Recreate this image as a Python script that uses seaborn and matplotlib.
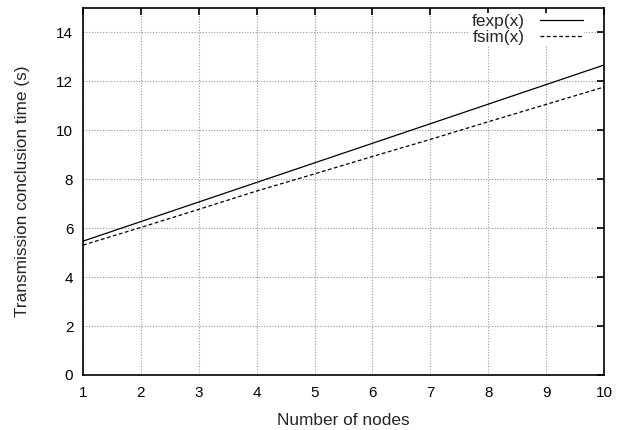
import matplotlib
matplotlib.use("Agg")
import matplotlib.pyplot as plt
import seaborn as sns
import pandas as pd

nodes = [1, 2, 3, 4, 5, 6, 7, 8, 9, 10]
fexp = [5.47, 6.27, 7.07, 7.87, 8.67, 9.47, 10.27, 11.07, 11.87, 12.67]
fsim = [5.31, 6.03, 6.77, 7.52, 8.22, 8.93, 9.63, 10.35, 11.06, 11.77]
x_ticks = [1, 2, 3, 4, 5, 6, 7, 8, 9, 10]
y_ticks = [0, 2, 4, 6, 8, 10, 12, 14]

sns.set_theme(style="white")
plt.rcParams['font.family'] = ['Liberation Sans', 'DejaVu Sans']

df = pd.DataFrame({"x": nodes + nodes,
                   "y": fexp + fsim,
                   "series": ["fexp(x)"] * len(nodes) + ["fsim(x)"] * len(nodes)})

fig = plt.figure(figsize=(6.26, 4.30), dpi=100)
ax = fig.add_axes([0.1326, 0.128, 0.8324, 0.8534])

sns.lineplot(data=df, x="x", y="y", hue="series", style="series",
             palette=["black", "black"],
             dashes={"fexp(x)": "", "fsim(x)": (3, 2)},
             linewidth=0.9, ax=ax, legend=True)

ax.set_xlim(1, 10)
ax.set_ylim(0, 15)
ax.set_xticks(x_ticks)
ax.set_yticks(y_ticks)
ax.set_xticklabels([str(t) for t in x_ticks])
ax.set_yticklabels([str(t) for t in y_ticks])
ax.grid(True, color="#999999", linestyle=(0, (1, 1.5)), linewidth=0.8)
ax.tick_params(direction="in", length=5, width=1.2, top=True, right=True,
               labelsize=11, colors="black", pad=7)
ax.tick_params(axis="x", pad=8)
for s in ax.spines.values():
    s.set_color("black")
    s.set_linewidth(1.2)
ax.set_xlabel("Number of nodes", fontsize=12.4, labelpad=9)
ax.set_ylabel("Transmission conclusion time (s)", fontsize=12.4, labelpad=19)

handles, labels = ax.get_legend_handles_labels()
leg = ax.legend(handles, labels, loc="upper right", bbox_to_anchor=(0.962, 0.986),
                markerfirst=False, frameon=True, fancybox=False, fontsize=12.4,
                handlelength=2.5, handletextpad=0.93, labelspacing=0.08,
                borderpad=0.05, borderaxespad=0.0)
leg.get_frame().set_facecolor("white")
leg.get_frame().set_edgecolor("none")
leg.get_frame().set_alpha(1.0)
for t in leg.get_texts():
    t.set_ha("right")

fig.savefig("out.png", dpi=100)
